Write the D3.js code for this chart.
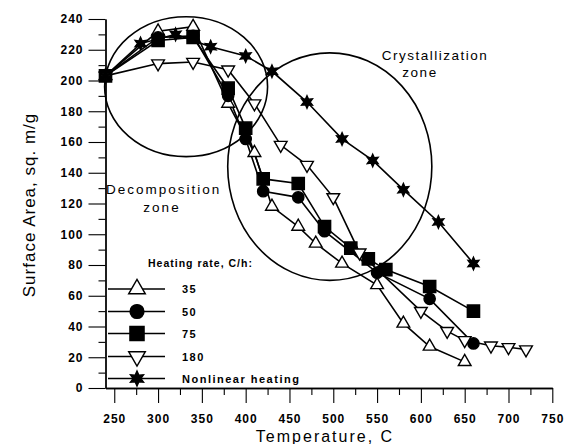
<!DOCTYPE html>
<html>
<head>
<meta charset="utf-8">
<script src="https://cdn.jsdelivr.net/npm/d3@7"></script>
<style>
  body { margin: 0; background: #fff; }
  svg { font-family: "Liberation Sans", Arial, sans-serif; }
</style>
</head>
<body>
<div id="chart"></div>
<script>
// data
const temps35 = [240, 300, 340, 380, 410, 430, 460, 480, 510, 550, 580, 610, 650];
const sa35 = [203, 232, 235, 185, 153, 118, 105, 94, 81, 67, 42, 27, 17];
const temps50 = [240, 300, 340, 380, 400, 420, 460, 490, 550, 610, 660];
const sa50 = [203, 228, 229, 190, 162, 128, 124, 102, 75, 58, 29];
const temps75 = [240, 300, 340, 380, 400, 420, 460, 490, 520, 540, 560, 610, 660];
const sa75 = [203, 226, 228, 195, 169, 136, 133, 105, 91, 84, 77, 66, 50];
const temps180 = [240, 300, 340, 380, 410, 440, 470, 500, 530, 600, 630, 650, 680, 700, 720];
const sa180 = [203, 211, 212, 207, 185, 158, 145, 124, 88, 50, 37, 31, 27.5, 26.5, 25];
const tempsNL = [240, 280, 320, 360, 400, 430, 470, 510, 545, 580, 620, 660];
const saNL = [203, 224, 230, 222, 216, 206, 186, 162, 148, 129, 108, 81];

const seriesLabels = ['35', '50', '75', '180', 'Nonlinear heating'];
const xTicks = [250, 300, 350, 400, 450, 500, 550, 600, 650, 700, 750];
const yTicks = [0, 20, 40, 60, 80, 100, 120, 140, 160, 180, 200, 220, 240];

// zone ellipses in data units: centre T, centre SA, half width (C), half height (m2/g)
const zoneDecomp = [332, 196, 93, 45.5];
const zoneCryst = [496, 144, 116.5, 74];

const width = 565, height = 444;
const svg = d3.select('#chart').append('svg')
  .attr('width', width)
  .attr('height', height);

const x = d3.scaleLinear().domain([240, 750]).range([105.5, 552.3]);
const y = d3.scaleLinear().domain([0, 240]).range([388, 19]);

// axes
const xMinor = d3.range(275, 750, 50);
const yMinor = d3.range(10, 240, 20);

const xg = svg.append('g').attr('transform', 'translate(0,388)');
xg.append('g').call(d3.axisBottom(x).tickValues(xMinor).tickSize(7).tickSizeOuter(0).tickFormat(''));
xg.append('g').call(d3.axisBottom(x).tickValues(xTicks).tickSize(15).tickSizeOuter(0).tickPadding(11).tickFormat(d3.format('d')));

const yg = svg.append('g').attr('transform', 'translate(105.5,0)');
yg.append('g').call(d3.axisLeft(y).tickValues(yMinor).tickSize(7).tickSizeOuter(0).tickFormat(''));
yg.append('g').call(d3.axisLeft(y).tickValues(yTicks).tickSize(17).tickSizeOuter(0).tickPadding(5).tickFormat(d3.format('d')));

svg.selectAll('.domain').attr('stroke', '#000').attr('stroke-width', 1.3);
svg.selectAll('.tick line').attr('stroke', '#000').attr('stroke-width', 1.1);
svg.selectAll('.tick text')
  .attr('fill', '#000')
  .style('font-size', '12px')
  .style('font-weight', 'bold')
  .style('letter-spacing', '1px')
  .style('font-family', '"Liberation Sans", Arial, sans-serif');

// axis titles
svg.append('text')
  .attr('x', 325).attr('y', 442)
  .attr('text-anchor', 'middle')
  .style('font-size', '16px')
  .style('letter-spacing', '2px')
  .text('Temperature, C');

svg.append('text')
  .attr('transform', 'translate(35,205) rotate(-90)')
  .attr('text-anchor', 'middle')
  .style('font-size', '17px')
  .style('letter-spacing', '1px')
  .text('Surface Area, sq. m/g');

// zone ellipses
[zoneDecomp, zoneCryst].forEach(z => {
  svg.append('ellipse')
    .attr('cx', x(z[0])).attr('cy', y(z[1]))
    .attr('rx', x(z[0] + z[2]) - x(z[0]))
    .attr('ry', y(z[1] - z[3]) - y(z[1]))
    .attr('fill', 'none')
    .attr('stroke', '#000')
    .attr('stroke-width', 1.6);
});

svg.append('text').attr('x', 106).attr('y', 194)
  .style('font-size', '13.5px').style('letter-spacing', '2px').text('Decomposition');
svg.append('text').attr('x', 162).attr('y', 212).attr('text-anchor', 'middle')
  .style('font-size', '13.5px').style('letter-spacing', '2px').text('zone');
svg.append('text').attr('x', 435).attr('y', 60).attr('text-anchor', 'middle')
  .style('font-size', '13.5px').style('letter-spacing', '1.5px').text('Crystallization');
svg.append('text').attr('x', 420).attr('y', 77).attr('text-anchor', 'middle')
  .style('font-size', '13.5px').style('letter-spacing', '1.5px').text('zone');

// markers
const star6 = {
  draw(ctx, size) {
    const r = Math.sqrt(size) * 0.75, ri = r * 0.5;
    for (let i = 0; i < 12; i++) {
      const a = Math.PI / 6 * i - Math.PI / 2;
      const rr = i % 2 ? ri : r;
      if (i === 0) ctx.moveTo(rr * Math.cos(a), rr * Math.sin(a));
      else ctx.lineTo(rr * Math.cos(a), rr * Math.sin(a));
    }
    ctx.closePath();
  }
};
const triDown = {
  draw(ctx, size) {
    const s = Math.sqrt(size / (Math.sqrt(3) / 4));
    const h = s * Math.sqrt(3) / 2;
    ctx.moveTo(-s / 2, -h / 3);
    ctx.lineTo(s / 2, -h / 3);
    ctx.lineTo(0, 2 * h / 3);
    ctx.closePath();
  }
};
const triUp = {
  draw(ctx, size) {
    const s = Math.sqrt(size / (Math.sqrt(3) / 4));
    const h = s * Math.sqrt(3) / 2;
    ctx.moveTo(-s / 2, h / 3);
    ctx.lineTo(s / 2, h / 3);
    ctx.lineTo(0, -2 * h / 3);
    ctx.closePath();
  }
};

const series = [
  { t: temps35, v: sa35, type: triUp, size: 70, fill: '#fff', lsize: 120 },
  { t: temps50, v: sa50, type: d3.symbolCircle, size: 100, fill: '#000', lsize: 150 },
  { t: temps75, v: sa75, type: d3.symbolSquare, size: 150, fill: '#000', lsize: 200 },
  { t: temps180, v: sa180, type: triDown, size: 70, fill: '#fff', lsize: 120 },
  { t: tempsNL, v: saNL, type: star6, size: 70, fill: '#000', lsize: 100 }
];

const line = d3.line().x(d => x(d[0])).y(d => y(d[1]));

series.forEach(s => {
  const pts = s.t.map((t, i) => [t, s.v[i]]);
  svg.append('path')
    .datum(pts)
    .attr('d', line)
    .attr('fill', 'none')
    .attr('stroke', '#000')
    .attr('stroke-width', 1.6);
});

series.forEach(s => {
  const pts = s.t.map((t, i) => [t, s.v[i]]);
  svg.append('g').selectAll('path')
    .data(pts)
    .enter().append('path')
    .attr('transform', d => `translate(${x(d[0])},${y(d[1])})`)
    .attr('d', d3.symbol().type(s.type).size(s.size))
    .attr('fill', s.fill)
    .attr('stroke', '#000')
    .attr('stroke-width', 1.4);
});

// legend
const legend = svg.append('g');
legend.append('text')
  .attr('x', 148).attr('y', 267)
  .style('font-size', '10.5px').style('font-weight', 'bold').style('letter-spacing', '1px')
  .text('Heating rate, C/h:');

const legendY = [289, 311.5, 333.5, 356.5, 378.5];
series.forEach((s, i) => {
  const ly = legendY[i];
  legend.append('line')
    .attr('x1', 108).attr('x2', 165).attr('y1', ly).attr('y2', ly)
    .attr('stroke', '#000').attr('stroke-width', 1.6);
  legend.append('path')
    .attr('transform', `translate(137,${ly})`)
    .attr('d', d3.symbol().type(s.type).size(s.lsize))
    .attr('fill', s.fill)
    .attr('stroke', '#000')
    .attr('stroke-width', 1.4);
  legend.append('text')
    .attr('x', 182).attr('y', ly + 4)
    .style('font-size', '11px').style('font-weight', 'bold').style('letter-spacing', '1.5px')
    .text(seriesLabels[i]);
});
</script>
</body>
</html>
